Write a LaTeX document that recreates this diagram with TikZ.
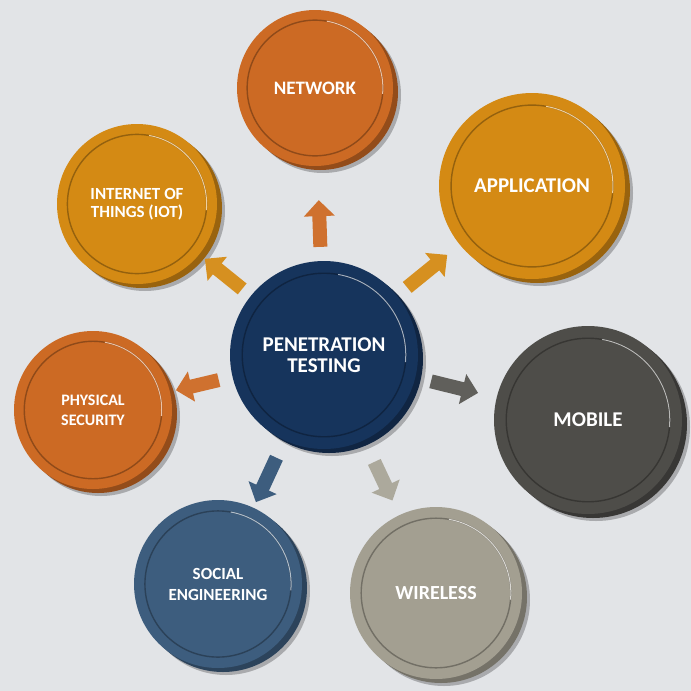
\documentclass[tikz,border=0pt]{standalone}
\usepackage{fontspec}
\setmainfont{Carlito}
\usetikzlibrary{arrows.meta,shadows}

\definecolor{bgray}{HTML}{E2E4E7}
\definecolor{pumpkin}{HTML}{CC6A24}
\definecolor{amber}{HTML}{D48A14}
\definecolor{navy}{HTML}{16345C}
\definecolor{slate}{HTML}{4E4D49}
\definecolor{stone}{HTML}{A39F91}
\definecolor{steel}{HTML}{3D5D7E}

\tikzset{
  disc/.style={circle,fill=#1,text=white,align=center,inner sep=0pt,
    drop shadow={shadow xshift=8pt,shadow yshift=-7pt,opacity=.25,fill=black},
    general shadow={fill=#1!72!black,shadow xshift=5pt,shadow yshift=-4pt}},
  fsize/.style 2 args={font=\fontsize{#1}{#2}\selectfont\bfseries},
  flow/.style={draw=#1,line width=14pt,-{Triangle[width=30pt,length=16pt]}},
}

\begin{document}
\begin{tikzpicture}[x=1pt,y=-1pt]
  \fill[bgray] (0,0) rectangle (691,691);
  \useasboundingbox (0,0) rectangle (691,691);

  % the seven areas round the core
  \node[disc=pumpkin,minimum size=156pt,fsize={19}{21}] (N) at (315,88) {NETWORK};
  \node[disc=amber,minimum size=186pt,fsize={21}{23}] (A) at (532,186) {APPLICATION};
  \node[disc=amber,minimum size=160pt,fsize={17}{18}] (I) at (137,204) {INTERNET OF\\THINGS (IOT)};
  \node[disc=pumpkin,minimum size=158pt,fsize={16}{20}] (P) at (93,410) {PHYSICAL\\SECURITY};
  \node[disc=slate,minimum size=188pt,fsize={21}{23}] (M) at (588,420) {MOBILE};
  \node[disc=steel,minimum size=168pt,fsize={17}{21}] (S) at (218,584) {SOCIAL\\ENGINEERING};
  \node[disc=stone,minimum size=172pt,fsize={20}{22}] (W) at (436,593) {WIRELESS};
  \node[disc=navy,minimum size=188pt,fsize={21}{21}] (C) at (324,355) {PENETRATION\\TESTING};

  % inner rims
  \foreach \n/\r/\c in {N/78/pumpkin,A/93/amber,I/80/amber,P/79/pumpkin,
      M/94/slate,S/84/steel,W/86/stone,C/94/navy}{
    \draw[\c!70!black,line width=1.4pt] (\n) circle ({0.87*\r});
    \draw[\c!40!white,line width=1pt] (\n) ++(-80:{0.87*\r}) arc (-80:5:{0.87*\r});
  }

  % arrows out of the core
  \draw[flow=pumpkin!95!white,shorten <=14pt,shorten >=34pt] (C) -- (N);
  \draw[flow=amber!95!white,shorten <=13pt,shorten >=16pt] (C) -- (A);
  \draw[flow=amber!95!white,shorten <=11pt,shorten >=7pt] (C) -- (I);
  \draw[flow=pumpkin!95!white,shorten <=14pt,shorten >=6pt] (C) -- (P);
  \draw[flow=slate!90!white,shorten <=16pt,shorten >=19pt] (C) -- (M);
  \draw[flow=steel,shorten <=19pt,shorten >=6pt] (C) -- (S);
  \draw[flow=stone!90!white,shorten <=24pt,shorten >=16pt] (C) -- (W);
\end{tikzpicture}
\end{document}
